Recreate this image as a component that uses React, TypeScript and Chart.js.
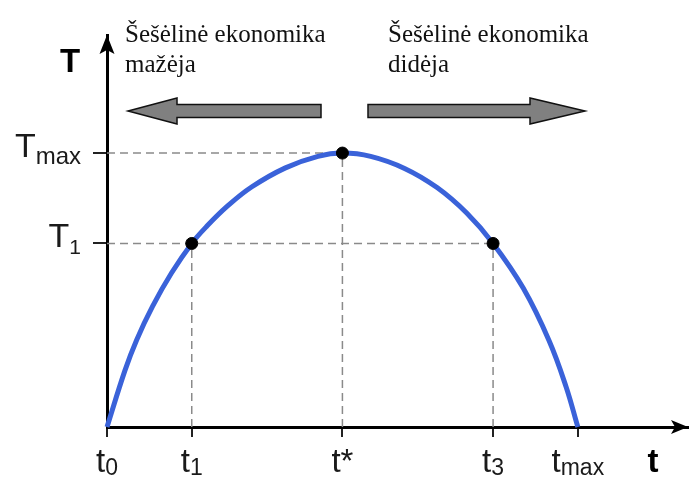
import React, { useEffect, useRef } from 'react';
import { Chart, registerables } from 'chart.js';

Chart.register(...registerables);

// Tax rate (t) and tax revenue (T) – Laffer curve
const curveRate = [0, 3.8, 6.3, 9.7, 13.7, 18, 21.1, 25.5, 30.7, 37.9, 44.8, 50, 56.0, 63.2, 70.1, 76.4, 82, 88.4, 93.9, 97.5, 100];
const curveRevenue = [0, 20.6, 31.8, 44.1, 56.2, 67, 73.1, 80.5, 87.6, 94.6, 98.8, 100, 98.8, 94.4, 87.4, 78.1, 67, 50.7, 31.5, 14.7, 0];

// Marked points: (t1, T1), (t*, Tmax), (t3, T1)
const markerRate = [18, 50, 82];
const markerRevenue = [67, 100, 67];

// Axis ticks
const xTickValues = [0, 18, 50, 82, 100];
const xTickMain = ['t', 't', 't*', 't', 't'];
const xTickSub = ['0', '1', '', '3', 'max'];
const yTickValues = [100, 67];
const yTickMain = ['T', 'T'];
const yTickSub = ['max', '1'];

const axisTitleX = 't';
const axisTitleY = 'T';
const noteLeft = ['Šešėlinė ekonomika', 'mažėja'];
const noteRight = ['Šešėlinė ekonomika', 'didėja'];

const SANS = '"Liberation Sans", Arial, sans-serif';
const SERIF = '"Liberation Serif", "Times New Roman", serif';

function drawSubLabel(ctx: CanvasRenderingContext2D, main: string, sub: string, x: number, base: number, mainSize: number, subSize: number, subDy: number, align: 'center' | 'right') {
  ctx.font = `${mainSize}px ${SANS}`;
  const w1 = ctx.measureText(main).width;
  ctx.font = `${subSize}px ${SANS}`;
  const w2 = sub ? ctx.measureText(sub).width : 0;
  const total = w1 + w2;
  const start = align === 'center' ? x - total / 2 : x - total;
  ctx.textAlign = 'left';
  ctx.textBaseline = 'alphabetic';
  ctx.font = `${mainSize}px ${SANS}`;
  ctx.fillText(main, start, base);
  if (sub) {
    ctx.font = `${subSize}px ${SANS}`;
    ctx.fillText(sub, start + w1, base + subDy);
  }
}

function drawBlockArrow(ctx: CanvasRenderingContext2D, tail: number, headBase: number, tip: number, cy: number) {
  const bodyHalf = 6.5;
  const headHalf = 13;
  ctx.beginPath();
  ctx.moveTo(tail, cy - bodyHalf);
  ctx.lineTo(headBase, cy - bodyHalf);
  ctx.lineTo(headBase, cy - headHalf);
  ctx.lineTo(tip, cy);
  ctx.lineTo(headBase, cy + headHalf);
  ctx.lineTo(headBase, cy + bodyHalf);
  ctx.lineTo(tail, cy + bodyHalf);
  ctx.closePath();
  ctx.fillStyle = '#808080';
  ctx.fill();
  ctx.lineWidth = 1.5;
  ctx.strokeStyle = '#111';
  ctx.stroke();
}

const overlay = {
  id: 'overlay',
  afterDraw(chart: any) {
    const ctx: CanvasRenderingContext2D = chart.ctx;
    const xs = chart.scales.x;
    const ys = chart.scales.y;
    const area = chart.chartArea;
    const ox = xs.getPixelForValue(0);
    const oy = ys.getPixelForValue(0);
    ctx.save();
    ctx.fillStyle = '#000';
    // y axis arrowhead
    ctx.beginPath();
    ctx.moveTo(ox, area.top);
    ctx.lineTo(ox - 7.5, area.top + 19);
    ctx.lineTo(ox, area.top + 15);
    ctx.lineTo(ox + 7.5, area.top + 19);
    ctx.closePath();
    ctx.fill();
    // x axis arrowhead
    ctx.beginPath();
    ctx.moveTo(area.right, oy);
    ctx.lineTo(area.right - 17, oy - 7);
    ctx.lineTo(area.right - 13, oy);
    ctx.lineTo(area.right - 17, oy + 7);
    ctx.closePath();
    ctx.fill();

    // axis titles
    ctx.font = `bold 33px ${SANS}`;
    ctx.textAlign = 'center';
    ctx.textBaseline = 'alphabetic';
    ctx.fillText(axisTitleY, ox - 37, area.top + 37);
    ctx.fillText(axisTitleX, area.right - 35, oy + 45);

    // tick labels
    ctx.fillStyle = '#1a1a1a';
    xTickValues.forEach((v, i) => {
      const px = xs.getPixelForValue(v);
      drawSubLabel(ctx, xTickMain[i], xTickSub[i], px, oy + 45, 33, 23, 3, 'center');
    });
    yTickValues.forEach((v, i) => {
      const py = ys.getPixelForValue(v);
      drawSubLabel(ctx, yTickMain[i], yTickSub[i], ox - 26, py + 4, 34, i === 0 ? 24 : 21, 7, 'right');
    });

    // notes
    ctx.fillStyle = '#111';
    ctx.font = `25px ${SERIF}`;
    ctx.textAlign = 'left';
    noteLeft.forEach((s, i) => ctx.fillText(s, 125, 42 + i * 30));
    noteRight.forEach((s, i) => ctx.fillText(s, 388, 42 + i * 30));

    // big direction arrows
    drawBlockArrow(ctx, 321, 177, 128, 111);
    drawBlockArrow(ctx, 368, 530, 585, 111);
    ctx.restore();
  },
};

export default function App() {
  const ref = useRef<HTMLCanvasElement | null>(null);
  useEffect(() => {
    if (!ref.current) return;
    const curve = curveRate.map((x, i) => ({ x, y: curveRevenue[i] }));
    const markers = markerRate.map((x, i) => ({ x, y: markerRevenue[i] }));
    const guideStyle = {
      borderColor: '#8a8a8a',
      borderWidth: 1.5,
      borderDash: [8, 5],
      pointRadius: 0,
      showLine: true,
      fill: false,
    };
    const guides: any[] = [];
    // horizontal guides from the T axis to the furthest marker at that level
    const levels = Array.from(new Set(markerRevenue));
    levels.forEach((lv) => {
      const far = Math.max(...markerRate.filter((_, i) => markerRevenue[i] === lv));
      guides.push({ ...guideStyle, data: [{ x: 0, y: lv }, { x: far, y: lv }] });
    });
    // vertical guides down to the t axis
    markers.forEach((m) => {
      guides.push({ ...guideStyle, data: [{ x: m.x, y: 0 }, { x: m.x, y: m.y }] });
    });

    const chart = new Chart(ref.current, {
      type: 'scatter',
      data: {
        datasets: [
          {
            data: markers,
            pointRadius: 6,
            pointBackgroundColor: '#000',
            pointBorderColor: '#000',
            showLine: false,
            clip: false,
          } as any,
          {
            data: curve,
            showLine: true,
            borderColor: '#3a62d9',
            borderWidth: 5,
            pointRadius: 0,
            tension: 0.4,
            fill: false,
            clip: false,
          } as any,
          ...guides,
        ],
      },
      options: {
        animation: false,
        responsive: false,
        events: [],
        layout: { padding: { left: 107, top: 35, right: 2, bottom: 50 } },
        plugins: { legend: { display: false }, tooltip: { enabled: false } },
        scales: {
          x: {
            type: 'linear',
            min: 0,
            max: 123.4,
            afterFit: (s: any) => { s.height = 0; },
            afterBuildTicks: (s: any) => { s.ticks = xTickValues.map((value) => ({ value })); },
            ticks: { display: false },
            grid: { drawOnChartArea: false, drawTicks: true, tickLength: 10, color: '#222', lineWidth: 2 },
            border: { display: true, color: '#000', width: 3 },
          },
          y: {
            type: 'linear',
            min: 0,
            max: 143.1,
            afterFit: (s: any) => { s.width = 0; },
            afterBuildTicks: (s: any) => { s.ticks = yTickValues.map((value) => ({ value })); },
            ticks: { display: false },
            grid: { drawOnChartArea: false, drawTicks: true, tickLength: 14, color: '#222', lineWidth: 2 },
            border: { display: true, color: '#000', width: 3 },
          },
        },
      },
      plugins: [overlay],
    });
    return () => chart.destroy();
  }, []);

  return (
    <div style={{ position: 'fixed', left: 0, top: 0, width: 695, height: 477, background: '#fff' }}>
      <canvas ref={ref} width={695} height={477} style={{ display: 'block' }} />
    </div>
  );
}
